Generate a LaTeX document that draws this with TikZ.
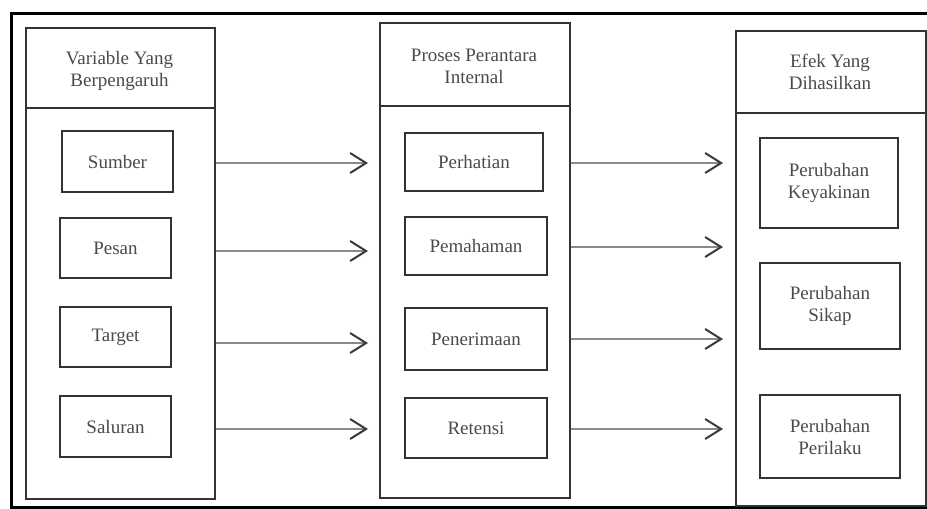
\documentclass[tikz,border=0pt]{standalone}
\usepackage{fontspec}
\setmainfont{Liberation Serif}
\usetikzlibrary{arrows.meta}
\definecolor{boxline}{HTML}{333333}
\definecolor{txt}{HTML}{4A4A4A}
\definecolor{conn}{HTML}{8A8A8A}
\definecolor{tipc}{HTML}{3A3A3A}
\tikzset{
  colbox/.style={draw=boxline, line width=2pt},
  itembox/.style={draw=boxline, line width=2pt, inner sep=0pt},
  lbl/.style={text=txt, font=\fontsize{19}{22}\selectfont, align=center, inner sep=0pt},
  conarrow/.style={draw=conn, line width=1.6pt,
    -{Straight Barb[length=16pt, width=20pt, line width=2pt, color=tipc]}},
  frameline/.style={draw=black, line width=3pt}
}
\begin{document}
\begin{tikzpicture}[x=1pt, y=-1pt]
\useasboundingbox (0,0) rectangle (927,509);
% outer frame (right side is outside the picture)
\draw[frameline] (935,13) -- (11,13) -- (11,507) -- (935,507);

% column 1
\node[colbox, minimum width=189pt, minimum height=471pt, anchor=north west, inner sep=0pt] (col1) at (25,27) {};
\draw[colbox] (25,108) -- (214,108);
\node[lbl] (h1) at (119.5,71) {Variable Yang\\Berpengaruh};
\node[itembox, minimum width=111pt, minimum height=61pt] (sumber) at (117.5,161.5) {};
\node[lbl] at (sumber) {Sumber};
\node[itembox, minimum width=111pt, minimum height=60pt] (pesan) at (115.5,248) {};
\node[lbl] at (pesan) {Pesan};
\node[itembox, minimum width=111pt, minimum height=60pt] (target) at (115.5,337) {};
\node[lbl] at (target) {Target};
\node[itembox, minimum width=111pt, minimum height=61pt] (saluran) at (115.5,426.5) {};
\node[lbl] at (saluran) {Saluran};

% column 2
\node[colbox, minimum width=190pt, minimum height=475pt, anchor=north west, inner sep=0pt] (col2) at (379,22) {};
\draw[colbox] (379,106) -- (569,106);
\node[lbl] (h2) at (474,66) {Proses Perantara\\Internal};
\node[itembox, minimum width=138pt, minimum height=58pt] (perhatian) at (474,162) {};
\node[lbl] at (perhatian) {Perhatian};
\node[itembox, minimum width=142pt, minimum height=58pt] (pemahaman) at (476,246) {};
\node[lbl] at (pemahaman) {Pemahaman};
\node[itembox, minimum width=142pt, minimum height=62pt] (penerimaan) at (476,339) {};
\node[lbl] at (penerimaan) {Penerimaan};
\node[itembox, minimum width=142pt, minimum height=60pt] (retensi) at (476,428) {};
\node[lbl] at (retensi) {Retensi};

% column 3
\node[colbox, minimum width=190pt, minimum height=475pt, anchor=north west, inner sep=0pt] (col3) at (735,30) {};
\draw[colbox] (735,113) -- (925,113);
\node[lbl] (h3) at (830,72) {Efek Yang\\Dihasilkan};
\node[itembox, minimum width=138pt, minimum height=90pt] (keyakinan) at (829,183) {};
\node[lbl] at (keyakinan) {Perubahan\\Keyakinan};
\node[itembox, minimum width=140pt, minimum height=86pt] (sikap) at (830,306) {};
\node[lbl] at (sikap) {Perubahan\\Sikap};
\node[itembox, minimum width=140pt, minimum height=83pt] (perilaku) at (830,436.5) {};
\node[lbl] at (perilaku) {Perubahan\\Perilaku};

% connectors column 1 -> column 2
\coordinate (a1) at (368,163);
\coordinate (a2) at (368,251);
\coordinate (a3) at (368,343);
\coordinate (a4) at (368,429);
\draw[conarrow] (col1.east |- a1) -- (a1);
\draw[conarrow] (col1.east |- a2) -- (a2);
\draw[conarrow] (col1.east |- a3) -- (a3);
\draw[conarrow] (col1.east |- a4) -- (a4);

% connectors column 2 -> column 3
\coordinate (b1) at (723,163);
\coordinate (b2) at (723,247);
\coordinate (b3) at (723,339);
\coordinate (b4) at (723,429);
\draw[conarrow] (col2.east |- b1) -- (b1);
\draw[conarrow] (col2.east |- b2) -- (b2);
\draw[conarrow] (col2.east |- b3) -- (b3);
\draw[conarrow] (col2.east |- b4) -- (b4);
\end{tikzpicture}
\end{document}
